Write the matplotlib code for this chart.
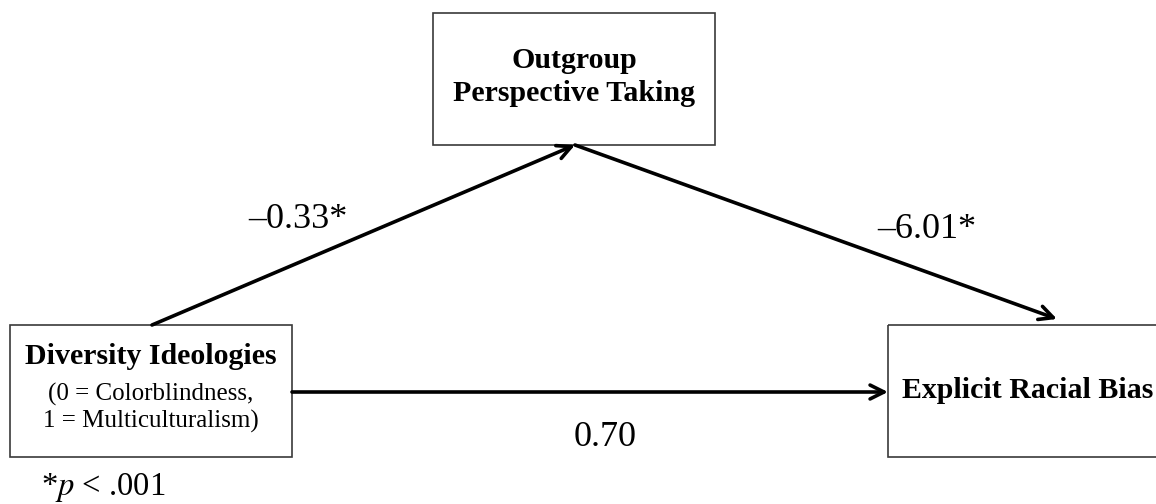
import matplotlib.pyplot as plt
from matplotlib.patches import Rectangle

# path model: predictor -> mediator -> outcome
nodes = ["Diversity Ideologies", "Outgroup\nPerspective Taking", "Explicit Racial Bias"]
node_notes = ["(0 = Colorblindness,\n1 = Multiculturalism)", "", ""]
path_a = -0.33
path_b = -6.01
path_c = 0.70
sig_note = "*$p$ < .001"

def coef(v, star):
    s = "%.2f" % abs(v)
    if v < 0:
        s = "\u2013" + s
    return s + ("*" if star else "")

W, H = 1156, 504
fig = plt.figure(figsize=(W / 100, H / 100), dpi=100)
ax = fig.add_axes([0, 0, 1, 1])
ax.set_xlim(0, W)
ax.set_ylim(H, 0)
ax.axis("off")
plt.rcParams["font.family"] = ["Liberation Serif", "DejaVu Serif"]
plt.rcParams["mathtext.fontset"] = "stix"

# boxes (x0, y0, x1, y1) in pixels
boxes = [(10, 325, 292, 457), (433, 13, 715, 145), (888, 325, 1175, 457)]
for (x0, y0, x1, y1) in boxes:
    ax.add_patch(Rectangle((x0, y0), x1 - x0, y1 - y0, fill=False,
                           edgecolor="#3a3a3a", linewidth=1.2, clip_on=False))

# labels in boxes
ax.text(151, 357, nodes[0], ha="center", va="center", fontsize=21.5, fontweight="bold")
ax.text(151, 408, node_notes[0], ha="center", va="center", fontsize=18, linespacing=1.2)
ax.text(574, 77, nodes[1], ha="center", va="center", fontsize=21.5, fontweight="bold",
        linespacing=1.3)
ax.text(1028, 390, nodes[2], ha="center", va="center", fontsize=21.5, fontweight="bold")

arrow = dict(arrowstyle="->,head_length=1.0,head_width=0.5", color="black",
             linewidth=2.6, shrinkA=0, shrinkB=0)
ax.annotate("", xy=(575, 145), xytext=(152, 325), arrowprops=arrow)
ax.annotate("", xy=(1057, 319), xytext=(575, 145), arrowprops=arrow)
ax.annotate("", xy=(888, 392), xytext=(292, 392), arrowprops=arrow)

ax.text(298, 220, coef(path_a, True), ha="center", va="center", fontsize=26)
ax.text(927, 229, coef(path_b, True), ha="center", va="center", fontsize=26)
ax.text(605, 437, coef(path_c, False), ha="center", va="center", fontsize=26)
ax.text(41, 487, sig_note, ha="left", va="center", fontsize=23.5)

fig.savefig("out.png", dpi=100)
